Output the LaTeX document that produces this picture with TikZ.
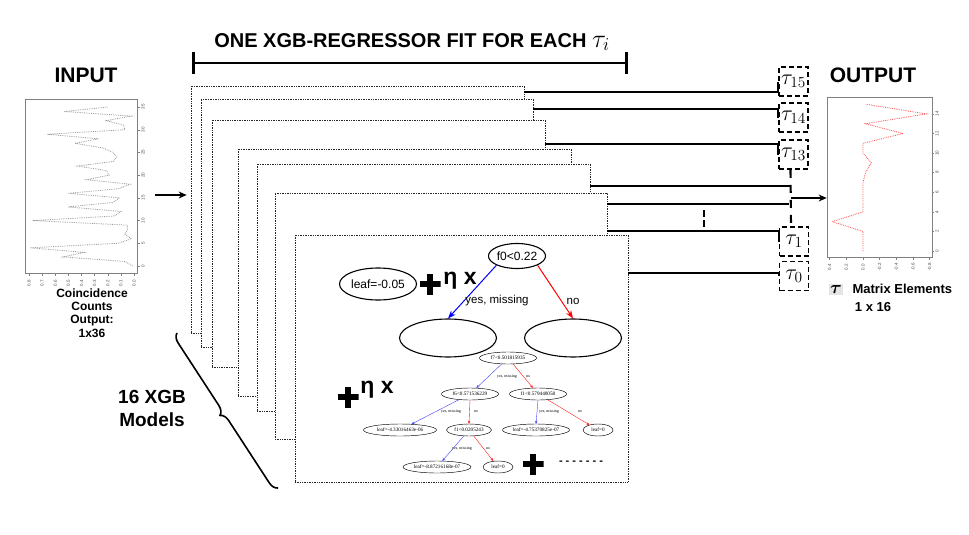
\RequirePackage{fix-cm}
\documentclass[tikz,border=0pt]{standalone}
\usepackage[no-math]{fontspec}
\setmainfont{Liberation Sans}
\newfontfamily\treefont{Liberation Serif}
\usepackage{amsmath}
\usepackage{bm}
\usetikzlibrary{arrows.meta, shapes.geometric, calc, fit, decorations.pathreplacing}

\newcommand{\xgbcard}[5]{\node[card, fit={(#2,#3) (#4,#5)}] (#1) {};}
\newcommand{\tauslot}[3]{\node[tauslot] (#1) at (#2) {$\tau_{#3}$};}
\tikzset{card/.style={draw=black!85, densely dotted, fill=white, inner sep=0pt, line width=0.7pt}}
\tikzset{tauslot/.style={rectangle, draw, dash pattern=on 5pt off 3pt, line width=1.8pt,
  minimum width=29pt, minimum height=29pt, inner sep=0pt, font=\fontsize{22}{22}\selectfont}}
\tikzset{conn/.style={line width=2.1pt}}
\tikzset{bigplus/.style={minimum size=21pt, inner sep=0pt, path picture={
    \draw[black, line width=6.5pt]
  (path picture bounding box.south) -- (path picture bounding box.north) (path picture bounding box.west) -- (path picture bounding box.east);
  }}}
\tikzset{bignode/.style={ellipse, draw, line width=1.1pt, inner sep=0pt, font=\fontsize{12}{12}\selectfont}}
\tikzset{tinynode/.style={ellipse, draw, line width=0.45pt, inner sep=0pt, minimum height=12pt,
  font=\treefont\fontsize{5.2}{5.2}\selectfont}}
\tikzset{yesedge/.style={blue, -{Stealth[length=8pt, width=6pt]}, line width=1pt}}
\tikzset{noedge/.style={red, -{Stealth[length=8pt, width=6pt]}, line width=1pt}}
\tikzset{tinyyes/.style={blue!75, -{Stealth[length=3pt, width=2.5pt]}, line width=0.4pt}}
\tikzset{tinyno/.style={red!90, -{Stealth[length=3pt, width=2.5pt]}, line width=0.4pt}}
\tikzset{tinylab/.style={font=\treefont\fontsize{4}{4}\selectfont, inner sep=0pt}}
\tikzset{heading/.style={font=\fontsize{21}{21}\selectfont\bfseries}}
\tikzset{etalab/.style={font=\fontsize{23}{23}\selectfont\bfseries}}
\tikzset{plotframe/.style={draw=gray, line width=0.7pt, inner sep=0pt}}
\tikzset{ticklab/.style={font=\fontsize{4.5}{4.5}\selectfont, text=black!70, rotate=90, inner sep=0pt}}

\begin{document}
\begin{tikzpicture}[x=1pt, y=-1pt]
  \useasboundingbox (0,0) rectangle (969,535);

  % title and bar
  \node[font=\fontsize{20}{20}\selectfont\bfseries] (title) at (412,42)
    {ONE XGB-REGRESSOR FIT FOR EACH \fontsize{26}{26}\selectfont$\tau_i$};
  \coordinate (barL) at (192,63);
  \coordinate (barR) at (628,63);
  \draw[line width=2.6pt, {Bar[width=22pt]}-{Bar[width=22pt]}] (barL) -- (barR);

  % input plot
  \node[heading] (intitle) at (86,75) {INPUT};
  \node[plotframe, fit={(25,99) (137,273)}] (inplot) {};
  \begin{scope}[shift={(134,266)}, x=-131.25pt, y=4.543pt]
    \draw[gray!80, densely dotted, line width=0.8pt] plot coordinates {
      (0.01,0) (0.07,1) (0.54,2) (0.38,3) (0.79,4) (0.12,5) (0.02,6) (0.07,7) (0.05,8)
      (0.05,9) (0.77,10) (0.15,11) (0.10,12) (0.50,13) (0.16,14) (0.11,15) (0.50,16)
      (0.12,17) (0.03,18) (0.36,19) (0.19,20) (0.21,21) (0.43,22) (0.16,23) (0.13,24)
      (0.16,25) (0.24,26) (0.45,27) (0.27,28) (0.66,29) (0.07,30) (0.08,31) (0.21,32)
      (0.02,33) (0.53,34) (0.20,35)};
  \end{scope}
  \foreach \t in {0,5,...,35} {
    \draw[gray] (138,{266-4.543*\t}) -- (140,{266-4.543*\t});
    \node[ticklab] (iny\t) at (143,{266-4.543*\t}) {\t};
  }
  \foreach \k in {0,...,8} {
    \draw[gray] ({134-13.125*\k},273) -- ({134-13.125*\k},276);
    \node[ticklab] (inx\k) at ({134-13.125*\k},283) {0.\k};
  }
  \node[font=\fontsize{12}{13.3}\selectfont\bfseries, align=center] (incap) at (92,313)
    {Coincidence\\Counts\\Output:\\1x36};

  % stack of models
  \xgbcard{card1}{191}{86}{524}{333}
  \xgbcard{card2}{201}{99}{533}{347}
  \xgbcard{card3}{212}{120}{545}{367}
  \xgbcard{card4}{238}{149}{571}{396}
  \xgbcard{card5}{257}{164}{590}{411}
  \xgbcard{card6}{275}{193}{607}{439}
  \xgbcard{card7}{295}{235}{628}{482}

  \coordinate (inarr) at (155,195);
  \draw[line width=1.2pt, -{Stealth[length=8pt, width=7pt]}, shorten >=4pt] (inarr) -- (inarr -| card1.west);

  \coordinate (brA) at (177,333);
  \coordinate (brB) at (278,488);
  \draw[line width=1.6pt, decorate, decoration={brace, amplitude=9pt}] (brB) -- (brA);
  \node[font=\fontsize{19}{23}\selectfont\bfseries, align=center] (models) at (152,408) {16 XGB\\Models};

  % first tree
  \node[bignode, minimum width=55pt, minimum height=25pt] (root) at (517,256) {f0<0.22};
  \node[bignode, minimum width=77pt, minimum height=32pt] (leaf) at (378,284) {leaf=-0.05};
  \node[bigplus] (plusA) at (430,284) {};
  \node[etalab] (etaA) at (460,281) {η x};
  \node[bignode, minimum width=97pt, minimum height=38pt] (kidL) at (448,338) {};
  \node[bignode, minimum width=97pt, minimum height=38pt] (kidR) at (573,338) {};
  \draw[yesedge] (root.south west) -- (kidL.north);
  \draw[noedge] (root.south east) -- (kidR.north);
  \node[font=\fontsize{11.5}{12}\selectfont] (yesA) at (497,301) {yes, missing};
  \node[font=\fontsize{11.5}{12}\selectfont] (noA) at (573,301) {no};

  % second tree
  \node[bigplus] (plusB) at (348,397) {};
  \node[etalab] (etaB) at (377,390) {η x};
  \node[tinynode, minimum width=57pt] (s0) at (508,358) {f7<0.501815935};
  \node[tinynode, minimum width=57pt] (s1) at (470,394) {f6<0.571536229};
  \node[tinynode, minimum width=57pt] (s2) at (538,394) {f1<0.579440058};
  \node[tinynode, minimum width=73pt] (s3) at (400,430) {leaf=-4.33016463e-06};
  \node[tinynode, minimum width=45pt] (s4) at (469,430) {f1<0.0205243};
  \node[tinynode, minimum width=67pt] (s5) at (536,430) {leaf=-4.75370825e-07};
  \node[tinynode, minimum width=30pt] (s6) at (598,430) {leaf=0};
  \node[tinynode, minimum width=68pt] (s7) at (437,467) {leaf=-8.87216168e-07};
  \node[tinynode, minimum width=30pt] (s8) at (498,467) {leaf=0};
  \draw[tinyyes] (s0) -- (s1);
  \draw[tinyno] (s0) -- (s2);
  \draw[tinyyes] (s1) -- (s3);
  \draw[tinyno] (s1.south) -- (s4.north);
  \draw[tinyyes] (s2.south) -- (s5.north);
  \draw[tinyno] (s2) -- (s6);
  \draw[tinyyes] (s4) -- (s7);
  \draw[tinyno] (s4) -- (s8);
  \node[tinylab] (y0) at (507,377) {yes, missing};
  \node[tinylab] (n0) at (528,377) {no};
  \node[tinylab] (y1) at (451,412) {yes, missing};
  \node[tinylab] (n1) at (476,412) {no};
  \node[tinylab] (y2) at (549,412) {yes, missing};
  \node[tinylab] (n2) at (580,412) {no};
  \node[tinylab] (y4) at (462,449) {yes, missing};
  \node[tinylab] (n4) at (488,449) {no};
  \node[bigplus] (plusC) at (533,464) {};
  \node[font=\fontsize{11}{11}\selectfont\bfseries] (more) at (581,463) {- - - - - - -};

  % outputs
  \tauslot{t15}{793.5,81.5}{15}
  \tauslot{t14}{793.5,117.5}{14}
  \tauslot{t13}{793.5,154.5}{13}
  \tauslot{t1}{794,241.5}{1}
  \tauslot{t0}{794,276}{0}
  \coordinate (vtop) at ([xshift=-3pt]t13.south);
  \coordinate (vbot) at ([xshift=-3pt]t1.north);
  \draw[conn, dash pattern=on 8pt off 7pt] (vtop) -- (vbot);

  \draw[conn] ([yshift=-6pt]card1.north east) -| (t15.west);
  \draw[conn] ([yshift=-10pt]card2.north east) -| (t14.west);
  \draw[conn] ([yshift=-24pt]card3.north east) -| (t13.west);
  \draw[conn] ([yshift=-22pt]card5.north east) coordinate (l4) -- (l4 -| vtop);
  \draw[conn] ([yshift=-11pt]card6.north east) coordinate (l5) -- ([xshift=-2pt]l5 -| vtop);
  \draw[conn] ([yshift=-38pt]card6.north east) -| (t1.west);
  \draw[conn] ([yshift=-38pt]card7.north east) -| (t0.west);
  \coordinate (dotsA) at (704,210);
  \coordinate (dotsB) at (704,227);
  \draw[conn, dash pattern=on 7pt off 3pt] (dotsA) -- (dotsB);

  % output plot
  \node[heading] (outtitle) at (873,75) {OUTPUT};
  \node[plotframe, fit={(827,97) (932,257)}] (outplot) {};
  \coordinate (vmid) at ($(vtop)!0.5!(vbot)$);
  \draw[line width=1.2pt, -{Stealth[length=8pt, width=7pt]}] (vmid) -- (vmid -| outplot.west);
  \begin{scope}[shift={(863,251)}, x=-83.3pt, y=9.79pt]
    \draw[red!70, densely dotted, line width=0.8pt] plot coordinates {
      (0,0) (0,1) (0,2) (0.37,3) (0,4) (0,5) (0,6) (0,7) (-0.03,8) (-0.10,9)
      (0,10) (0,11) (-0.48,12) (-0.03,13) (-0.76,14) (-0.03,15)};
  \end{scope}
  \foreach \t in {0,2,...,14} {
    \draw[gray] (932,{251-9.79*\t}) -- (934,{251-9.79*\t});
    \node[ticklab] (outy\t) at (937,{251-9.79*\t}) {\t};
  }
  \foreach \v/\lab [count=\n] in {0.4/0.4, 0.2/0.2, 0/0.0, -0.2/-0.2, -0.4/-0.4, -0.6/-0.6, -0.8/-0.8} {
    \draw[gray] ({863-83.3*\v},257) -- ({863-83.3*\v},260);
    \node[ticklab] (outx\n) at ({863-83.3*\v},267) {\lab};
  }
  \node[fill=gray!20, inner sep=1.5pt, font=\fontsize{18}{18}\selectfont] (taulab) at (836,289) {$\bm{\tau}$};
  \node[font=\fontsize{13}{13}\selectfont\bfseries, anchor=west] (matel) at (849,289) {Matrix Elements};
  \node[font=\fontsize{13}{13}\selectfont\bfseries] (dims) at (873,307) {1 x 16};
\end{tikzpicture}
\end{document}
